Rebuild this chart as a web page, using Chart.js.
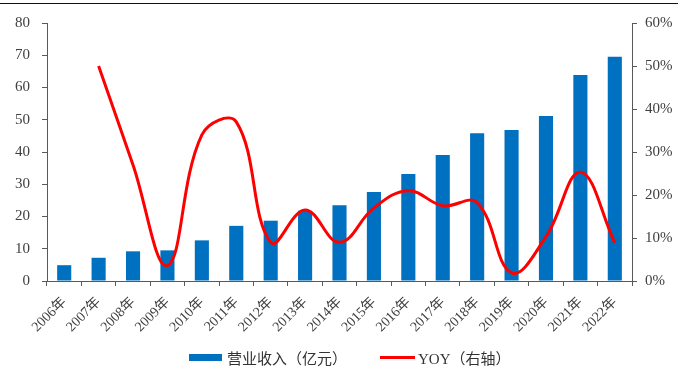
<!DOCTYPE html>
<html>
<head>
<meta charset="utf-8">
<script src="https://cdn.jsdelivr.net/npm/chart.js@4"></script>
<style>
    body { margin: 0; background: #fff; }
    #wrap { position: relative; width: 678px; height: 370px; }
    #topLine { position: absolute; left: 0; top: 3px; width: 678px; border-top: 1.5px solid #111; }
    #legend { position: absolute; left: 189px; top: 347px; height: 20px; display: flex; align-items: center;
        font-family: "Liberation Serif", "Times New Roman", "Noto Sans CJK SC", serif; font-size: 15px; color: #333; }
    #legend .item { display: flex; align-items: center; margin-right: 33px; }
    #legend .box { width: 33px; height: 7px; margin-right: 5px; }
    #legend .line { width: 35px; height: 3px; margin-right: 3px; }
</style>
</head>
<body>
<div id="wrap">
    <div id="topLine"></div>
    <canvas id="revenueChart" width="678" height="370"></canvas>
    <div id="legend"></div>
</div>
<script>
// Categories and series values
const years = ['2006年', '2007年', '2008年', '2009年', '2010年', '2011年', '2012年', '2013年', '2014年',
    '2015年', '2016年', '2017年', '2018年', '2019年', '2020年', '2021年', '2022年'];
const revenue = [4.9, 7.2, 9.2, 9.5, 12.6, 17.1, 18.7, 21.8, 23.5, 27.6, 33.2, 39.1, 45.8, 46.8, 51.2, 63.9, 69.5];
const yoy = [null, 50, 27, 3.6, 34, 37, 9, 16.5, 9, 17, 21, 17.5, 18.2, 1.9, 10.3, 25.3, 8.9];

const leftTicks = [0, 10, 20, 30, 40, 50, 60, 70, 80];
const rightTicks = [0, 10, 20, 30, 40, 50, 60];

const serif = '"Liberation Serif", "Times New Roman", "Noto Sans CJK SC", serif';
const textColor = '#404040';
const axisColor = '#595959';
const barColor = '#0070c0';
const lineColor = '#ff0000';

const ctx = document.getElementById('revenueChart').getContext('2d');

const chart = new Chart(ctx, {
    data: {
        labels: years,
        datasets: [
            {
                type: 'line',
                label: 'YOY（右轴）',
                data: yoy,
                yAxisID: 'yRight',
                borderColor: lineColor,
                backgroundColor: lineColor,
                borderWidth: 3,
                pointRadius: 0,
                tension: 0.4,
                order: 0
            },
            {
                type: 'bar',
                label: '营业收入（亿元）',
                data: revenue,
                yAxisID: 'yLeft',
                backgroundColor: barColor,
                barPercentage: 0.41,
                categoryPercentage: 1,
                order: 1
            }
        ]
    },
    options: {
        responsive: false,
        animation: false,
        layout: { padding: { top: 23, left: 0, right: 0, bottom: 34 } },
        scales: {
            x: {
                offset: true,
                border: { color: axisColor, width: 1 },
                grid: { offset: true, drawOnChartArea: false, drawTicks: true, tickLength: 5, color: axisColor },
                ticks: {
                    color: textColor,
                    font: { family: serif, size: 14 },
                    minRotation: 45,
                    maxRotation: 45,
                    padding: 8
                },
                afterFit: (scale) => { scale.height = 55; }
            },
            yLeft: {
                position: 'left',
                min: 0,
                max: 80,
                afterBuildTicks: (scale) => { scale.ticks = leftTicks.map(v => ({ value: v })); },
                border: { color: axisColor, width: 1 },
                grid: { drawOnChartArea: false, drawTicks: true, tickLength: 5, color: axisColor },
                ticks: { color: textColor, font: { family: serif, size: 15 }, padding: 12 },
                afterFit: (scale) => { scale.width = 47; }
            },
            yRight: {
                position: 'right',
                min: 0,
                max: 60,
                afterBuildTicks: (scale) => { scale.ticks = rightTicks.map(v => ({ value: v })); },
                border: { color: axisColor, width: 1 },
                grid: { drawOnChartArea: false, drawTicks: true, tickLength: 5, color: axisColor },
                ticks: {
                    color: textColor,
                    font: { family: serif, size: 15 },
                    padding: 8,
                    callback: (v) => v + '%'
                },
                afterFit: (scale) => { scale.width = 46; }
            }
        },
        plugins: {
            legend: { display: false },
            tooltip: { enabled: false }
        }
    }
});

// HTML legend, bar series first
const legendEl = document.getElementById('legend');
[chart.data.datasets[1], chart.data.datasets[0]].forEach(ds => {
    const item = document.createElement('div');
    item.className = 'item';
    const mark = document.createElement('div');
    mark.className = ds.type === 'bar' ? 'box' : 'line';
    mark.style.background = ds.backgroundColor;
    const txt = document.createElement('span');
    txt.textContent = ds.label;
    item.appendChild(mark);
    item.appendChild(txt);
    legendEl.appendChild(item);
});
</script>
</body>
</html>
